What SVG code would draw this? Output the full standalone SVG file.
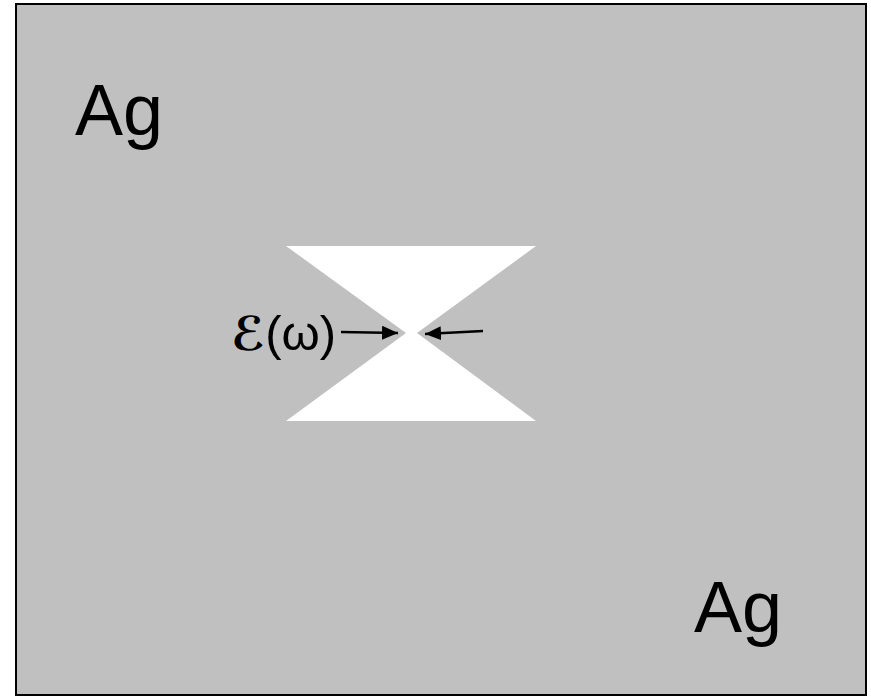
<svg xmlns="http://www.w3.org/2000/svg" width="871" height="698" viewBox="0 0 871 698">
<style>
.lbl{font-family:"Liberation Sans",Arial,sans-serif;fill:#000}
.scr{font-family:"DejaVu Sans",sans-serif;font-weight:bold}
.arr{stroke:#000;stroke-width:2.5;fill:none}
</style>
<defs>
<marker id="ah" viewBox="0 0 16 14" refX="16" refY="7" markerWidth="16" markerHeight="14" orient="auto" markerUnits="userSpaceOnUse">
<path d="M0,0 L16,7 L0,14 z" fill="#000"/>
</marker>
</defs>
<rect x="16" y="4" width="850" height="691" fill="#c0c0c0" stroke="#000" stroke-width="2"/>
<g id="gap">
<polygon points="286,246 536,246 417,333 536,421 286,421 406,333" fill="#fff"/>
</g>
<g id="ag1"><text class="lbl" x="75" y="135" font-size="72">Ag</text></g>
<g id="ag2"><text class="lbl" x="694" y="632" font-size="72">Ag</text></g>
<g id="field"><text class="lbl" x="231" y="350" font-size="49"><tspan class="scr" font-size="47">ℰ</tspan>(ω)</text></g>
<g id="connectors">
<line class="arr" x1="341" y1="332" x2="398" y2="333" marker-end="url(#ah)"/>
<line class="arr" x1="483" y1="331" x2="425" y2="334" marker-end="url(#ah)"/>
</g>
</svg>
